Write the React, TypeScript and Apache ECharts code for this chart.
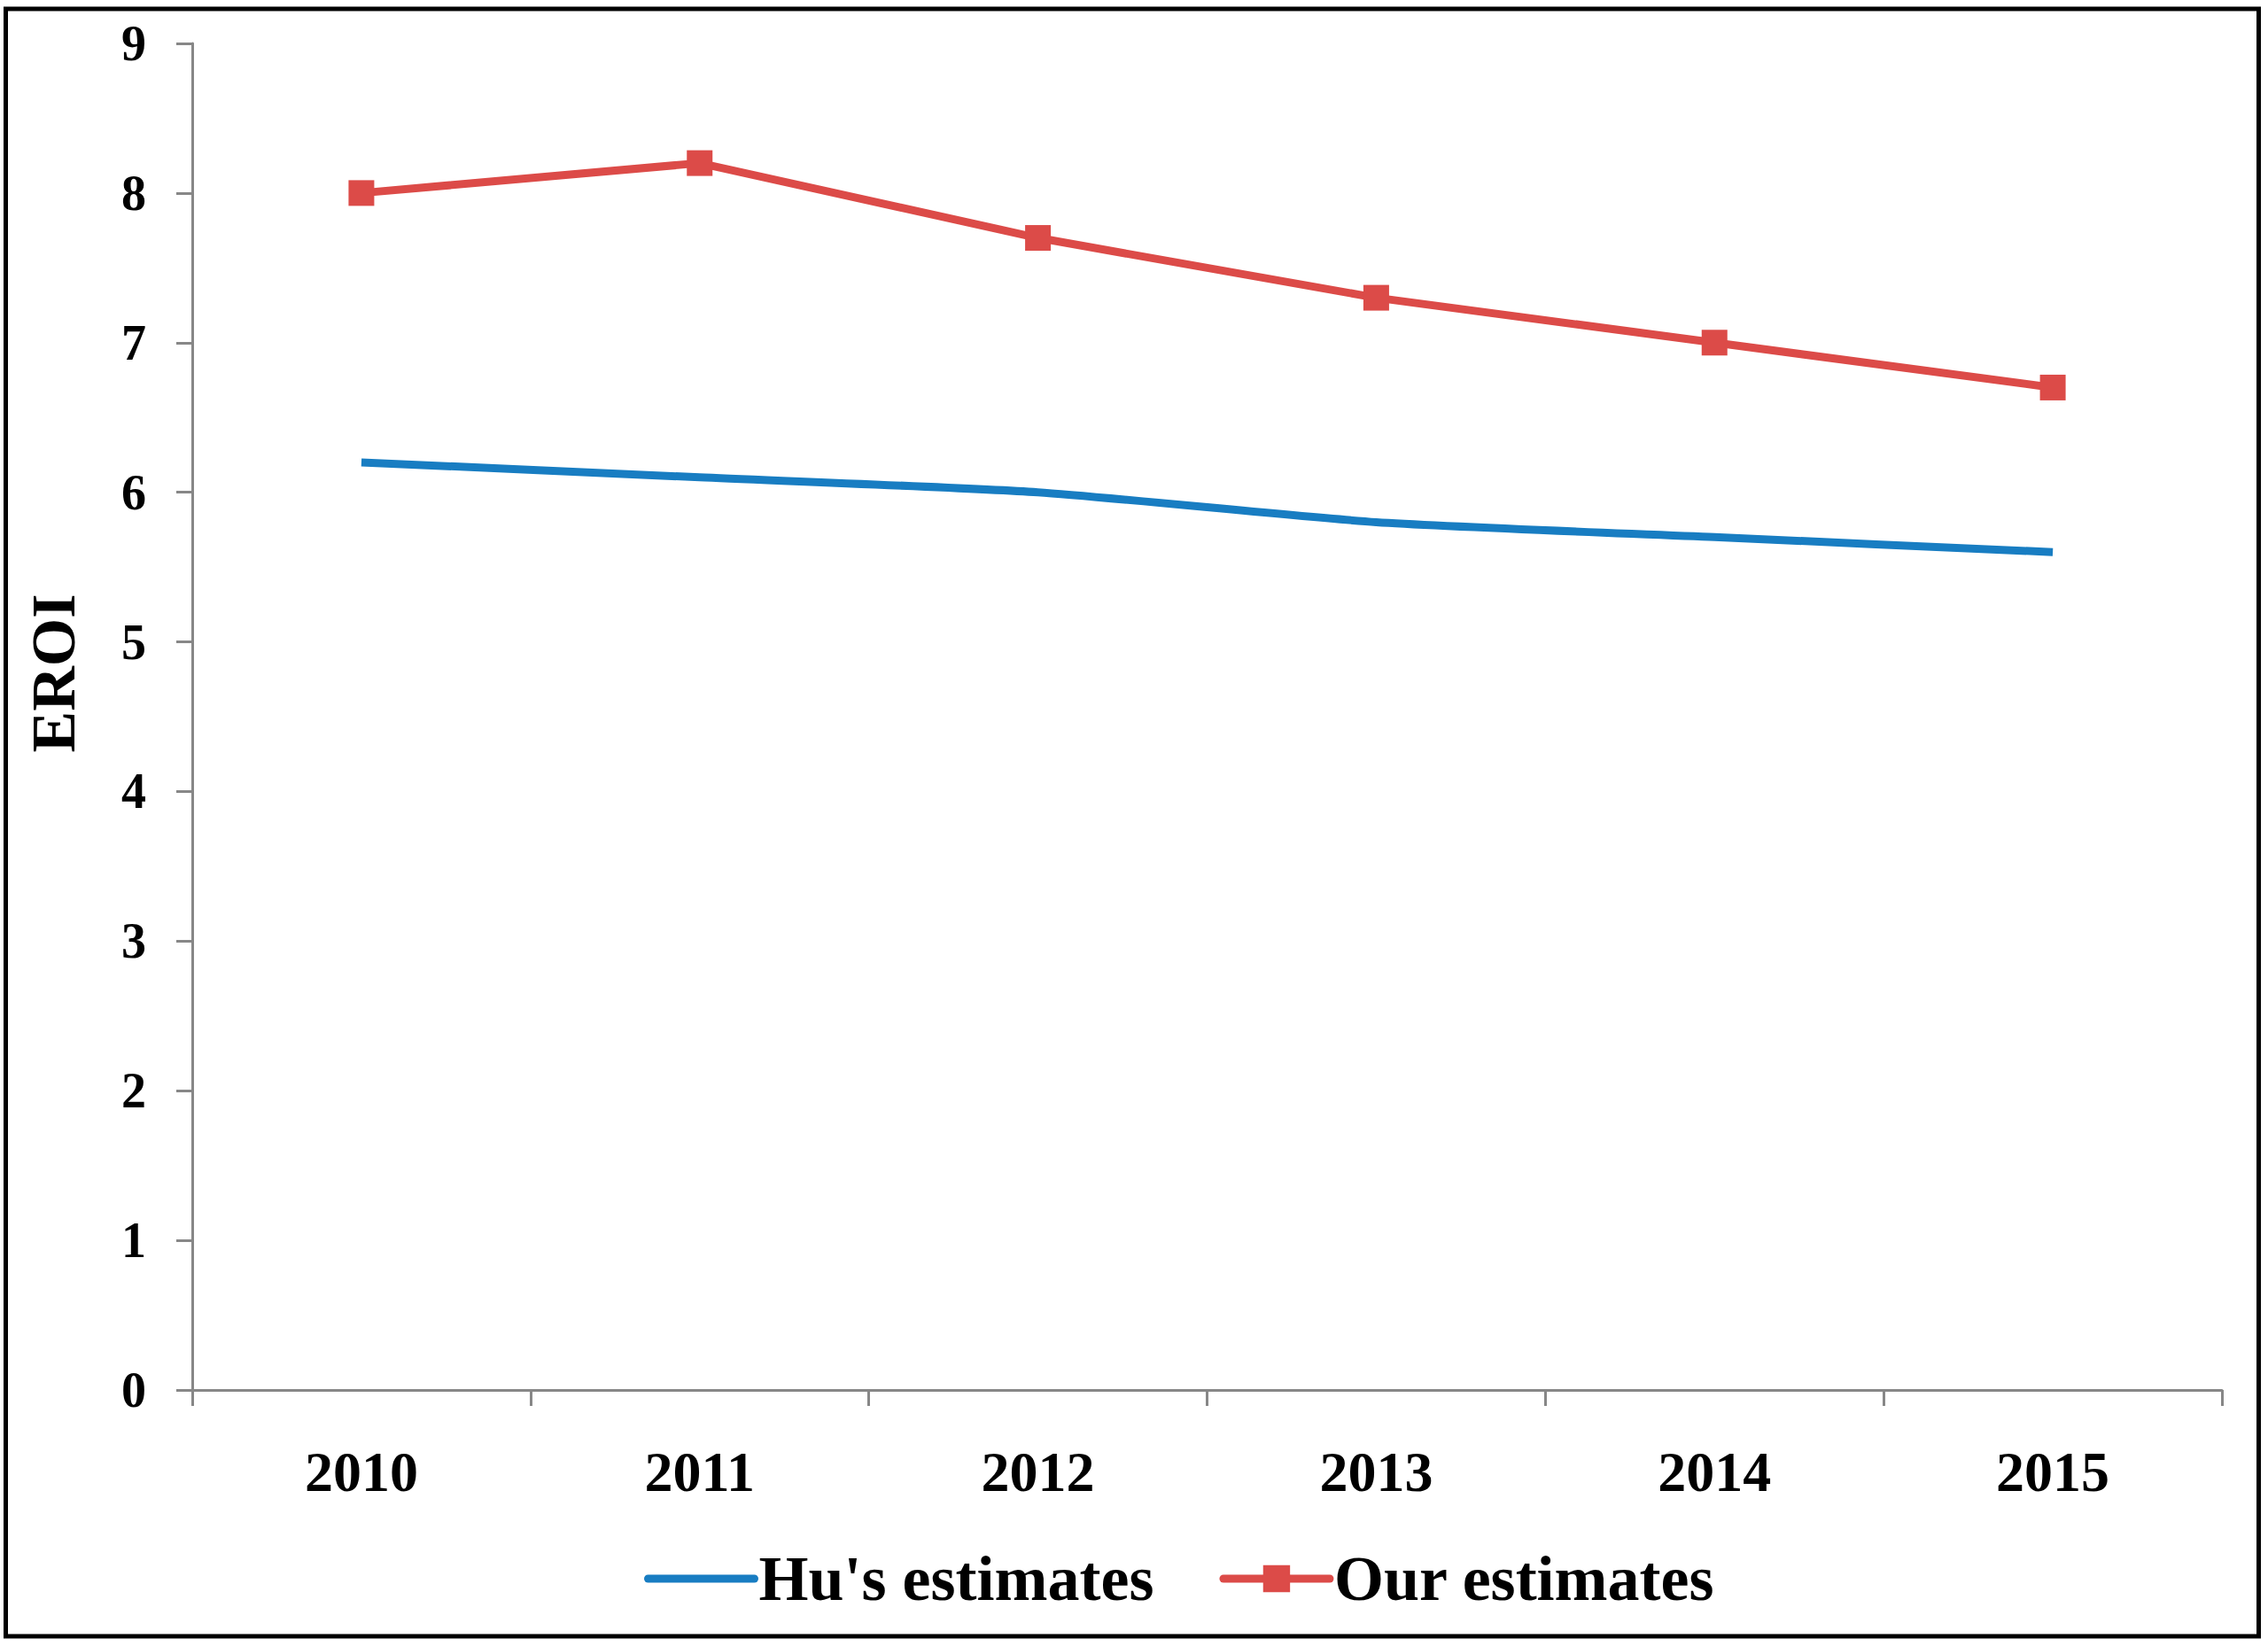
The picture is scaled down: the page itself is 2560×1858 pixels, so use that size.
import React, { useEffect, useRef } from "react";
import * as echarts from "echarts";

const categories = ["2010", "2011", "2012", "2013", "2014", "2015"];
const huEstimates = [6.2, 6.1, 6.0, 5.8, 5.7, 5.6];
const ourEstimates = [8.0, 8.2, 7.7, 7.3, 7.0, 6.7];
const seriesNames = ["Hu's estimates", "Our estimates"];
const yAxisTitle = "EROI";

const FONT = "'Times New Roman', 'Liberation Serif', serif";

export default function App() {
  const ref = useRef<HTMLDivElement>(null);
  useEffect(() => {
    if (!ref.current) return;
    const chart = echarts.init(ref.current, undefined, { renderer: "svg" });
    chart.setOption({
      animation: false,
      backgroundColor: "#ffffff",
      grid: { left: 217, right: 52, top: 49, bottom: 289 },
      xAxis: {
        type: "category",
        data: categories,
        boundaryGap: true,
        axisLine: { show: true, lineStyle: { color: "#878787", width: 3 } },
        axisTick: { show: true, length: 18, lineStyle: { color: "#878787", width: 3 } },
        axisLabel: {
          margin: 60,
          fontFamily: FONT,
          fontWeight: "bold",
          fontSize: 64,
          color: "#000",
        },
        splitLine: { show: false },
      },
      yAxis: {
        type: "value",
        min: 0,
        max: 9,
        interval: 1,
        axisLine: { show: true, lineStyle: { color: "#878787", width: 3 } },
        axisTick: { show: true, length: 18, lineStyle: { color: "#878787", width: 3 } },
        axisLabel: {
          margin: 52,
          fontFamily: FONT,
          fontWeight: "bold",
          fontSize: 56,
          color: "#000",
        },
        splitLine: { show: false },
      },
      legend: {
        left: 722,
        top: 1741,
        itemWidth: 120,
        itemHeight: 38,
        itemGap: 74,
        lineStyle: { width: 9, cap: "round" },
        textStyle: {
          fontFamily: FONT,
          fontWeight: "bold",
          fontSize: 72,
          color: "#000",
        },
        data: [
          { name: seriesNames[0], itemStyle: { opacity: 0 } },
          { name: seriesNames[1] },
        ],
      },
      graphic: [
        {
          type: "rect",
          shape: { x: 6.5, y: 10, width: 2543, height: 1837 },
          style: { fill: "none", stroke: "#000", lineWidth: 5 },
          silent: true,
        },
        {
          type: "text",
          x: 60,
          y: 760,
          rotation: Math.PI / 2,
          style: {
            text: yAxisTitle,
            fontFamily: FONT,
            fontWeight: "bold",
            fontSize: 70,
            fill: "#000",
            align: "center",
            verticalAlign: "middle",
          },
        },
      ],
      series: [
        {
          name: seriesNames[0],
          type: "line",
          data: huEstimates,
          symbol: "none",
          smooth: 0.2,
          lineStyle: { color: "#187DC2", width: 9 },
          itemStyle: { color: "#187DC2" },
        },
        {
          name: seriesNames[1],
          type: "line",
          data: ourEstimates,
          symbol: "rect",
          symbolSize: 29,
          lineStyle: { color: "#DC4B48", width: 9 },
          itemStyle: { color: "#DC4B48" },
        },
      ],
    });
    return () => chart.dispose();
  }, []);
  return (
    <div
      ref={ref}
      style={{ position: "absolute", left: 0, top: 0, width: 2560, height: 1858 }}
    />
  );
}
